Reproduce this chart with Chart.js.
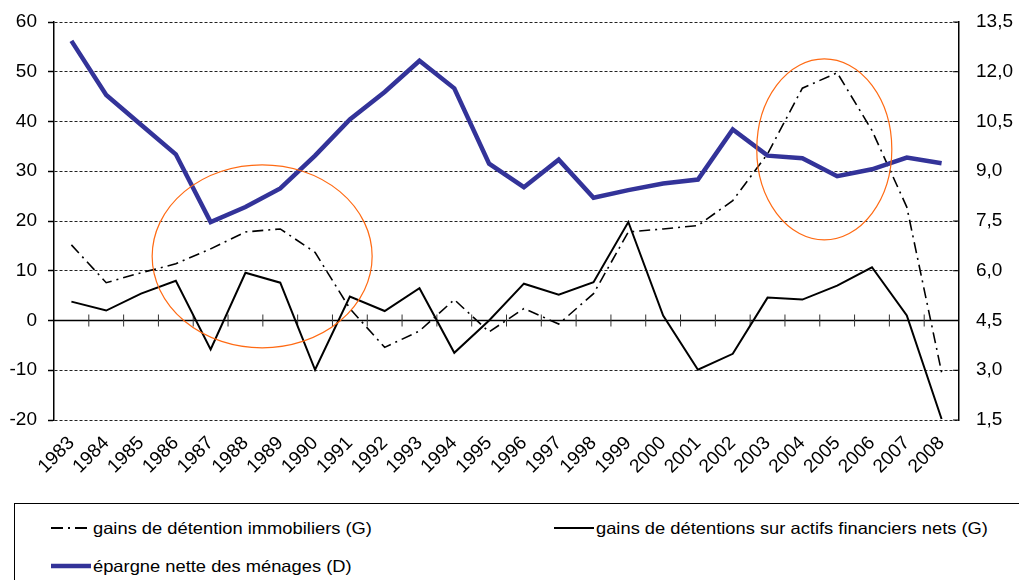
<!DOCTYPE html>
<html>
<head>
<meta charset="utf-8">
<script src="https://cdn.jsdelivr.net/npm/chart.js@4"></script>
<style>
  body { margin: 0; background: #fff; }
  #wrap { position: relative; width: 1019px; height: 580px; overflow: hidden; background: #fff; }
  #chart { position: absolute; left: 0; top: 0; }
  #legend { position: absolute; left: 14px; top: 503px; width: 1020px; height: 100px; border: 1px solid #000; box-sizing: border-box; }
  .item { position: absolute; height: 20px; line-height: 20px; white-space: nowrap; font-family: "Liberation Sans", Arial, sans-serif; font-size: 16.5px; color: #000; }
  .item svg { position: absolute; left: 0; top: 0; }
  .item span { position: absolute; top: 0; display: inline-block; transform: scaleX(1.11); transform-origin: left center; }
</style>
</head>
<body>
<div id="wrap">
  <canvas id="chart" width="1019" height="500"></canvas>
  <div id="legend"></div>
</div>
<script>
// categories and series
const years = ["1983", "1984", "1985", "1986", "1987", "1988", "1989", "1990", "1991", "1992",
  "1993", "1994", "1995", "1996", "1997", "1998", "1999", "2000", "2001", "2002",
  "2003", "2004", "2005", "2006", "2007", "2008"];

// gains de détention immobiliers (G), left axis
const immobiliers = [15.2, 7.6, 9.6, 11.4, 14.4, 17.8, 18.4, 13.7, 2.4, -5.4,
  -2.1, 4.2, -2.3, 2.4, -0.7, 5.4, 17.8, 18.4, 19.1, 24.1,
  33.5, 46.7, 49.8, 38.2, 22.8, -10.4];

// gains de détentions sur actifs financiers nets (G), left axis
const financiers = [3.8, 2.0, 5.4, 8.0, -5.8, 9.6, 7.6, -9.9, 4.8, 1.9,
  6.5, -6.5, 0.0, 7.4, 5.2, 7.7, 19.8, 1.0, -9.9, -6.7,
  4.6, 4.2, 7.0, 10.7, 1.0, -19.8];

// épargne nette des ménages (D), right axis
const epargne = [12.93, 11.3, 10.4, 9.51, 7.47, 7.92, 8.48, 9.47, 10.56, 11.39,
  12.33, 11.5, 9.23, 8.52, 9.35, 8.2, 8.43, 8.63, 8.75, 10.26,
  9.47, 9.39, 8.85, 9.06, 9.41, 9.24];

// tick values and labels
const leftTicks = [-20, -10, 0, 10, 20, 30, 40, 50, 60];
const rightTicks = [1.5, 3, 4.5, 6, 7.5, 9, 10.5, 12, 13.5];
const rightTickLabels = ["1,5", "3,0", "4,5", "6,0", "7,5", "9,0", "10,5", "12,0", "13,5"];

// orange circles drawn by hand on the original (category index / left-axis units)
const highlights = [
  { cx: 5.48, cy: 12.9, rx: 3.16, ry: 18.4 },
  { cx: 21.63, cy: 34.4, rx: 1.94, ry: 18.2 }
];

const FONT = "'Liberation Sans', Arial, sans-serif";
const BLUE = "#333399";

const legendItems = [
  { text: "gains de détention immobiliers (G)", x: 36, y: 14, dash: "12,5,2,5", color: "#000", width: 2 },
  { text: "gains de détentions sur actifs financiers nets (G)", x: 539, y: 14, dash: "", color: "#000", width: 2 },
  { text: "épargne nette des ménages (D)", x: 36, y: 52, dash: "", color: BLUE, width: 4.5 }
];

function buildLegend() {
  const legend = document.getElementById("legend");
  legendItems.forEach(it => {
    const div = document.createElement("div");
    div.className = "item";
    div.style.left = it.x + "px";
    div.style.top = it.y + "px";
    div.innerHTML =
      `<svg width="42" height="20"><line x1="0" y1="10" x2="40" y2="10" stroke="${it.color}" stroke-width="${it.width}"` +
      (it.dash ? ` stroke-dasharray="${it.dash}"` : "") + `/></svg>` +
      `<span style="left:42px">${it.text}</span>`;
    legend.appendChild(div);
  });
}

// zero line with its category ticks, inward ticks of the right axis, orange circles
const extras = {
  id: "extras",
  beforeDatasetsDraw(chart) {
    const { ctx, chartArea, scales } = chart;
    const x = scales.x, y = scales.y, y1 = scales.y1;
    const y0 = y.getPixelForValue(0);
    ctx.save();
    ctx.strokeStyle = "#000";
    ctx.lineWidth = 1.5;
    ctx.beginPath();
    ctx.moveTo(chartArea.left, y0);
    ctx.lineTo(chartArea.right, y0);
    ctx.stroke();
    ctx.lineWidth = 1;
    ctx.strokeStyle = "#333";
    for (let i = 1; i < years.length; i++) {
      const bx = (x.getPixelForTick(i - 1) + x.getPixelForTick(i)) / 2;
      ctx.beginPath();
      ctx.moveTo(bx, y0 - 6);
      ctx.lineTo(bx, y0 + 6);
      ctx.stroke();
    }
    ctx.strokeStyle = "#000";
    rightTicks.forEach(v => {
      const py = y1.getPixelForValue(v);
      ctx.beginPath();
      ctx.moveTo(chartArea.right - 6, py);
      ctx.lineTo(chartArea.right, py);
      ctx.stroke();
    });
    ctx.restore();
  },
  afterDatasetsDraw(chart) {
    const { ctx, scales } = chart;
    const x = scales.x, y = scales.y;
    const step = x.getPixelForTick(1) - x.getPixelForTick(0);
    ctx.save();
    ctx.strokeStyle = "#ff6a13";
    ctx.lineWidth = 1.2;
    highlights.forEach(h => {
      const cx = x.getPixelForTick(0) + h.cx * step;
      const cy = y.getPixelForValue(h.cy);
      const rx = h.rx * step;
      const ry = Math.abs(y.getPixelForValue(h.cy + h.ry) - cy);
      ctx.beginPath();
      ctx.ellipse(cx, cy, rx, ry, 0, 0, Math.PI * 2);
      ctx.stroke();
    });
    ctx.restore();
  }
};

function createChart() {
  const canvas = document.getElementById("chart");
  new Chart(canvas, {
    type: "line",
    data: {
      labels: years,
      datasets: [
        {
          label: "épargne nette des ménages (D)",
          data: epargne,
          yAxisID: "y1",
          borderColor: BLUE,
          borderWidth: 4.5,
          pointRadius: 0,
          tension: 0,
          borderJoinStyle: "miter"
        },
        {
          label: "gains de détention immobiliers (G)",
          data: immobiliers,
          yAxisID: "y",
          borderColor: "#000",
          borderWidth: 1.6,
          borderDash: [11, 5, 2, 5],
          pointRadius: 0,
          tension: 0
        },
        {
          label: "gains de détentions sur actifs financiers nets (G)",
          data: financiers,
          yAxisID: "y",
          borderColor: "#000",
          borderWidth: 2,
          pointRadius: 0,
          tension: 0
        }
      ]
    },
    options: {
      responsive: false,
      animation: false,
      layout: { padding: { top: 22, left: 0, right: 0, bottom: 0 } },
      plugins: {
        legend: { display: false },
        tooltip: { enabled: false }
      },
      scales: {
        x: {
          type: "category",
          offset: true,
          grid: { display: false },
          border: { display: false },
          ticks: {
            autoSkip: false,
            maxRotation: 45,
            minRotation: 45,
            padding: 4,
            color: "#000",
            font: { family: FONT, size: 19 }
          },
          afterFit(s) { s.height = 80; }
        },
        y: {
          position: "left",
          min: -20,
          max: 60,
          afterBuildTicks(s) { s.ticks = leftTicks.map(v => ({ value: v })); },
          ticks: {
            padding: 11,
            color: "#000",
            font: { family: FONT, size: 19 }
          },
          grid: {
            color: "#222",
            lineWidth: 1,
            tickLength: 6,
            tickColor: "#000",
            tickWidth: 1.5,
            tickBorderDash: []
          },
          border: { display: true, color: "#000", width: 1.5, dash: [3, 2] },
          afterFit(s) { s.width = 54; s.paddingTop = 0; s.paddingBottom = 0; }
        },
        y1: {
          position: "right",
          min: 1.5,
          max: 13.5,
          afterBuildTicks(s) { s.ticks = rightTicks.map(v => ({ value: v })); },
          ticks: {
            padding: 17,
            color: "#000",
            font: { family: FONT, size: 19 },
            callback(v, i) { return rightTickLabels[i]; }
          },
          grid: { drawOnChartArea: false, drawTicks: false },
          border: { display: true, color: "#000", width: 1.5 },
          afterFit(s) { s.width = 60; s.paddingTop = 0; s.paddingBottom = 0; }
        }
      }
    },
    plugins: [extras]
  });
}

buildLegend();
createChart();
</script>
</body>
</html>
